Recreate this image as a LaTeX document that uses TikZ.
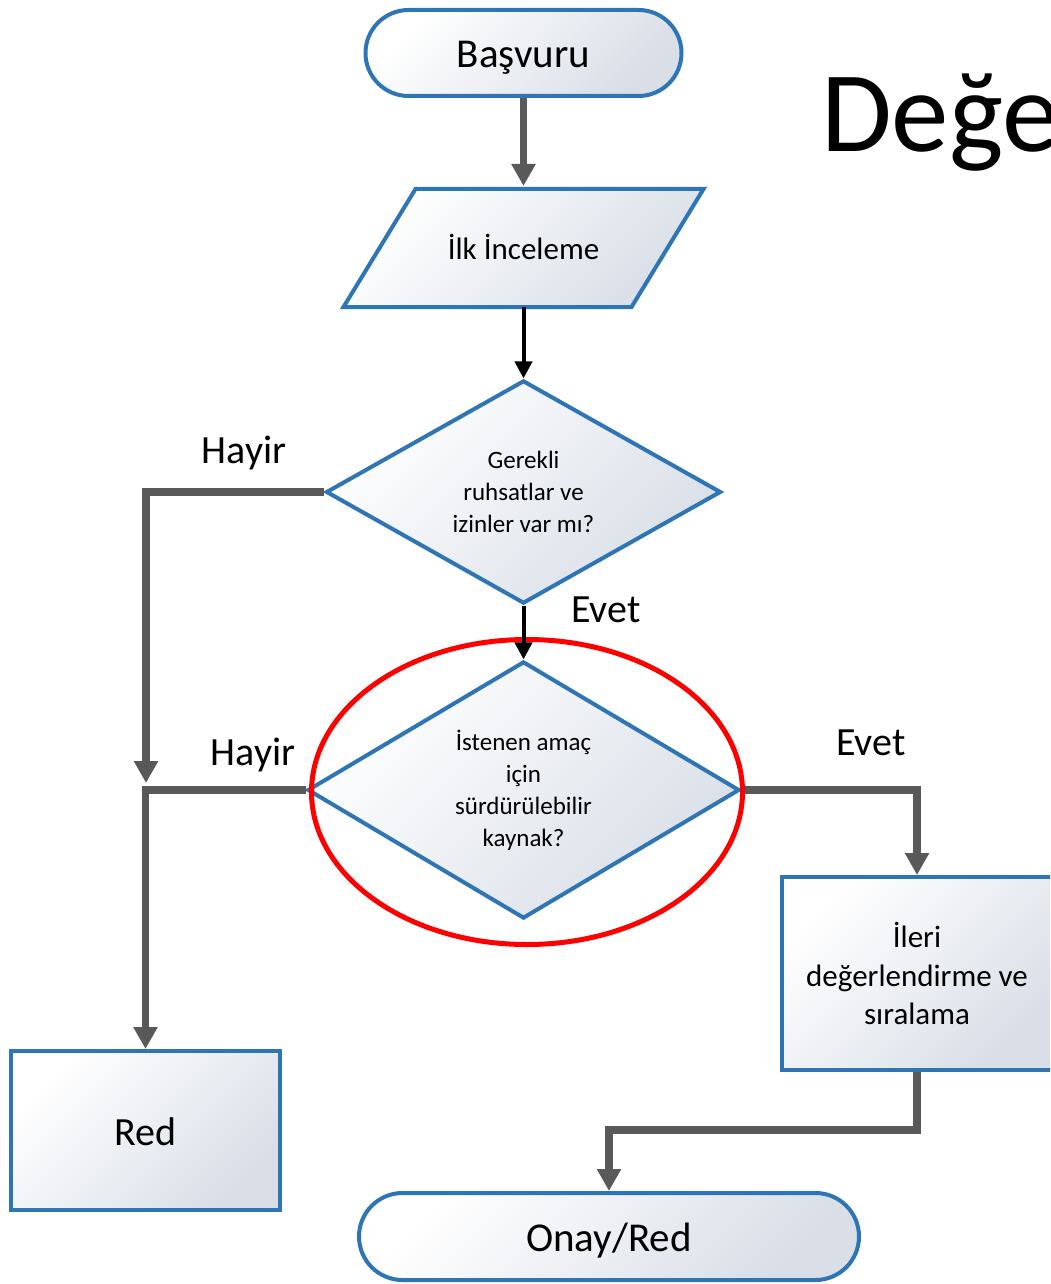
\documentclass[tikz,border=0pt]{standalone}
\usepackage{fontspec}
\setmainfont{Carlito}
\usetikzlibrary{arrows.meta,shapes.geometric}
\definecolor{bordB}{HTML}{2E75B6}
\definecolor{fillB}{HTML}{D9DEE7}
\definecolor{connG}{HTML}{595959}
\begin{document}
\begin{tikzpicture}[x=1pt,y=-1pt,
  shp/.style={draw=bordB, line width=4pt, top color=white, bottom color=fillB, shading angle=45, inner sep=0pt, align=center},
  term/.style={shp, rounded corners=43pt, minimum height=86pt, font=\fontsize{41}{48}\selectfont, text height=30pt, text depth=0pt},
  boxsty/.style={shp, rectangle},
  dec/.style={shp, diamond, font=\fontsize{25}{32}\selectfont},
  lbl/.style={anchor=base, inner sep=0pt, font=\fontsize{40}{48}\selectfont},
  gconn/.style={draw=connG, line width=7.5pt, line join=miter, -{Triangle[width=23pt,length=22pt]}},
  bconn/.style={draw=black, line width=4pt, -{Triangle[width=17pt,length=17pt]}}
]
\useasboundingbox (0,0) rectangle (1050,1284);
\clip (0,0) rectangle (1050,1284);

% title fragment
\node[anchor=base west, inner sep=0pt, font=\fontsize{115}{130}\selectfont] (title) at (821,152) {Değe};

% shapes
\node[term, minimum width=316pt] (bas) at (523.5,53) {Başvuru};
\path[shp] (415.5,189) -- (703.5,189) -- (631.5,307) -- (343.5,307) -- cycle;
\node[inner sep=0pt, minimum width=200pt, minimum height=118pt, font=\fontsize{31}{38}\selectfont, text height=22pt, text depth=0pt] (ilk) at (523.5,248) {İlk İnceleme};
\node[dec, minimum width=395pt, minimum height=216pt] (d1) at (523.5,492) {Gerekli\\ruhsatlar ve\\izinler var mı?};
\node[dec, minimum width=432pt, minimum height=239pt] (d2) at (523.5,790) {İstenen amaç\\için\\sürdürülebilir\\kaynak?};
\node[boxsty, minimum width=271pt, minimum height=193pt, font=\fontsize{31}{38.5}\selectfont] (ileri) at (917,973.5) {İleri\\değerlendirme ve\\sıralama};
\node[boxsty, minimum width=269pt, minimum height=159pt, font=\fontsize{40}{46}\selectfont, text height=29pt, text depth=0pt] (red) at (145.5,1130.5) {Red};
\node[term, minimum width=500pt, minimum height=87pt, rounded corners=43.5pt] (onay) at (609,1236.5) {Onay/Red};

% labels
\node[lbl] (hay1) at (244,463) {Hayir};
\node[lbl] (evet1) at (606,622) {Evet};
\node[lbl] (hay2) at (253,765) {Hayir};
\node[lbl] (evet2) at (871,755) {Evet};

% gray connectors
\coordinate (tipA) at (146,783);
\coordinate (bend) at (917,1130);
\draw[gconn] (bas.south) -- (bas.south |- 0,186);
\draw[gconn] (d1.west) -| (tipA);
\draw[gconn] (d2.west) -| (red.north);
\draw[gconn] (d2.east) -| (ileri.north);
\draw[gconn] (ileri.south) -- (bend) -| (onay.north);

% highlight oval
\node[ellipse, draw=red, line width=5pt, minimum width=431pt, minimum height=305pt, inner sep=0pt] (oval) at (527,792) {};

% black connectors
\draw[bconn] (ilk.south) -- (d1.north);
\draw[bconn] (d1.south) -- (d2.north);
\end{tikzpicture}
\end{document}
